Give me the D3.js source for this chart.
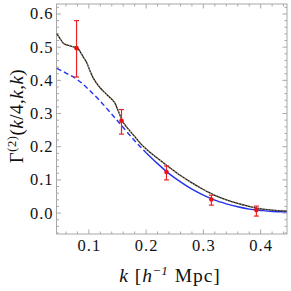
<!DOCTYPE html>
<html>
<head>
<meta charset="utf-8">
<script src="https://cdn.jsdelivr.net/npm/d3@7/dist/d3.min.js"></script>
<style>
  body { margin: 0; background: #fff; }
</style>
</head>
<body>
<div id="chart"></div>
<script>
// measured bispectrum ratio (red points with error bars)
var dataK = [0.0785, 0.157, 0.2355, 0.314, 0.3925];
var dataVal = [0.497, 0.278, 0.124, 0.041, 0.009];
var dataLo = [0.41, 0.238, 0.10, 0.024, -0.009];
var dataHi = [0.58, 0.312, 0.142, 0.054, 0.021];

// black solid curve (noisy at low k), drawn with a tan dotted overlay
var blackK = [0.044, 0.05, 0.056, 0.065, 0.075, 0.08, 0.085, 0.091, 0.097, 0.102, 0.108, 0.114, 0.12, 0.126, 0.132, 0.14, 0.146, 0.152, 0.158, 0.168, 0.178, 0.19, 0.202, 0.22, 0.235, 0.26, 0.28, 0.3, 0.318, 0.34, 0.36, 0.39, 0.42, 0.446];
var blackVal = [0.541, 0.525, 0.511, 0.505, 0.500, 0.497, 0.486, 0.468, 0.451, 0.428, 0.406, 0.39, 0.377, 0.366, 0.356, 0.343, 0.33, 0.305, 0.28, 0.255, 0.235, 0.21, 0.19, 0.165, 0.145, 0.113, 0.091, 0.071, 0.055, 0.04, 0.029, 0.016, 0.009, 0.006];

// blue curve
var blueK = [0.044, 0.06, 0.08, 0.1, 0.12, 0.14, 0.16, 0.18, 0.2, 0.22, 0.24, 0.26, 0.28, 0.3, 0.32, 0.34, 0.36, 0.38, 0.4, 0.42, 0.446];
var blueVal = [0.436, 0.422, 0.402, 0.372, 0.337, 0.298, 0.258, 0.218, 0.182, 0.149, 0.119, 0.094, 0.072, 0.054, 0.039, 0.028, 0.019, 0.012, 0.008, 0.005, 0.004];
var blueSolidFrom = 0.2;

var yTicks = [0.0, 0.1, 0.2, 0.3, 0.4, 0.5, 0.6];
var xTicks = [0.1, 0.2, 0.3, 0.4];

var width = 291, height = 291;
var margin = {left: 56.5, right: 4, top: 4, bottom: 57};
var serif = "'Liberation Serif', 'Times New Roman', Times, serif";

var svg = d3.select("#chart").append("svg")
    .attr("width", width)
    .attr("height", height)
    .attr("font-family", serif);

var x = d3.scaleLinear().domain([0.0435, 0.446]).range([margin.left, width - margin.right]);
var y = d3.scaleLinear().domain([-0.063, 0.63]).range([height - margin.bottom, margin.top]);

var frameColor = "#a8a8a8";

// frame
svg.append("rect")
    .attr("x", x.range()[0]).attr("y", y.range()[1])
    .attr("width", x.range()[1] - x.range()[0])
    .attr("height", y.range()[0] - y.range()[1])
    .attr("fill", "none").attr("stroke", frameColor).attr("stroke-width", 1);

// ticks, all four sides, inward
var xMinor = d3.range(0.04, 0.4461, 0.02).filter(function(t) { return t >= x.domain()[0]; });
var yMinor = d3.range(-0.06, 0.631, 0.02);

function isMajor(t) { return Math.abs(t * 10 - Math.round(t * 10)) < 1e-6; }

var tickG = svg.append("g").attr("stroke", frameColor).attr("stroke-width", 1);
xMinor.forEach(function(t) {
  var len = isMajor(t) ? 4.5 : 2.5;
  var px = x(t);
  tickG.append("line").attr("x1", px).attr("x2", px).attr("y1", y.range()[0]).attr("y2", y.range()[0] - len);
  tickG.append("line").attr("x1", px).attr("x2", px).attr("y1", y.range()[1]).attr("y2", y.range()[1] + len);
});
yMinor.forEach(function(t) {
  var len = isMajor(t) ? 4.5 : 2.5;
  var py = y(t);
  tickG.append("line").attr("y1", py).attr("y2", py).attr("x1", x.range()[0]).attr("x2", x.range()[0] + len);
  tickG.append("line").attr("y1", py).attr("y2", py).attr("x1", x.range()[1]).attr("x2", x.range()[1] - len);
});

// tick labels
svg.append("g").selectAll("text").data(yTicks).enter().append("text")
    .attr("x", x.range()[0] - 3)
    .attr("y", function(d) { return y(d) + 5.5; })
    .attr("text-anchor", "end")
    .attr("font-size", 16.5)
    .attr("letter-spacing", 1)
    .attr("fill", "#111")
    .text(function(d) { return d3.format(".1f")(d); });

svg.append("g").selectAll("text").data(xTicks).enter().append("text")
    .attr("x", function(d) { return x(d) + 0.5; })
    .attr("y", 250.5)
    .attr("text-anchor", "middle")
    .attr("font-size", 16.5)
    .attr("letter-spacing", 1)
    .attr("fill", "#111")
    .text(function(d) { return d3.format(".1f")(d); });

// axis titles
var xt = svg.append("text")
    .attr("x", 170).attr("y", 282)
    .attr("text-anchor", "middle")
    .attr("font-size", 19.5)
    .attr("letter-spacing", 1)
    .attr("fill", "#111");
xt.append("tspan").attr("font-style", "italic").text("k");
xt.append("tspan").text(" [");
xt.append("tspan").attr("font-style", "italic").text("h");
xt.append("tspan").attr("font-size", 13).attr("dy", -7.5).text("\u2212");
xt.append("tspan").attr("font-size", 13).attr("font-style", "italic").text("1");
xt.append("tspan").attr("dy", 7.5).text(" Mpc]");

var yt = svg.append("text")
    .attr("transform", "translate(23,116) rotate(-90)")
    .attr("text-anchor", "middle")
    .attr("font-size", 19)
    .attr("letter-spacing", 0.5)
    .attr("fill", "#111");
yt.append("tspan").text("\u0393");
yt.append("tspan").attr("font-size", 12.5).attr("dy", -7.5).text("(2)");
yt.append("tspan").attr("dy", 7.5).text("(");
yt.append("tspan").attr("font-style", "italic").text("k");
yt.append("tspan").text("/4,");
yt.append("tspan").attr("font-style", "italic").text("k");
yt.append("tspan").text(",");
yt.append("tspan").attr("font-style", "italic").text("k");
yt.append("tspan").text(")");

// curves
var plot = svg.append("g");
var line = d3.line().curve(d3.curveMonotoneX).x(function(d) { return x(d[0]); }).y(function(d) { return y(d[1]); });

var blue = blueK.map(function(k, i) { return [k, blueVal[i]]; });
plot.append("path")
    .attr("d", line(blue.filter(function(d) { return d[0] <= blueSolidFrom + 1e-9; })))
    .attr("fill", "none").attr("stroke", "#2233ee").attr("stroke-width", 1.4)
    .attr("stroke-dasharray", "5,3");
plot.append("path")
    .attr("d", line(blue.filter(function(d) { return d[0] >= blueSolidFrom - 1e-9; })))
    .attr("fill", "none").attr("stroke", "#2233ee").attr("stroke-width", 1.4);

var black = blackK.map(function(k, i) { return [k, blackVal[i]]; });
plot.append("path")
    .attr("d", line(black))
    .attr("fill", "none").attr("stroke", "#1a1a1a").attr("stroke-width", 1.3);
plot.append("path")
    .attr("d", line(black))
    .attr("fill", "none").attr("stroke", "#b09a78").attr("stroke-width", 1.1)
    .attr("stroke-dasharray", "1.2,1.8");

// error bars and points
var pts = plot.selectAll("g.pt").data(dataK).enter().append("g").attr("class", "pt");
pts.append("line")
    .attr("x1", function(d) { return x(d); }).attr("x2", function(d) { return x(d); })
    .attr("y1", function(d, i) { return y(dataLo[i]); })
    .attr("y2", function(d, i) { return y(dataHi[i]); })
    .attr("stroke", "#ee2222").attr("stroke-width", 1.2);
[dataLo, dataHi].forEach(function(arr) {
  pts.append("line")
      .attr("x1", function(d) { return x(d) - 2.5; }).attr("x2", function(d) { return x(d) + 2.5; })
      .attr("y1", function(d, i) { return y(arr[i]); })
      .attr("y2", function(d, i) { return y(arr[i]); })
      .attr("stroke", "#ee2222").attr("stroke-width", 1.2);
});
pts.append("circle")
    .attr("cx", function(d) { return x(d); })
    .attr("cy", function(d, i) { return y(dataVal[i]); })
    .attr("r", 2.3)
    .attr("fill", "#ee1111");
</script>
</body>
</html>
